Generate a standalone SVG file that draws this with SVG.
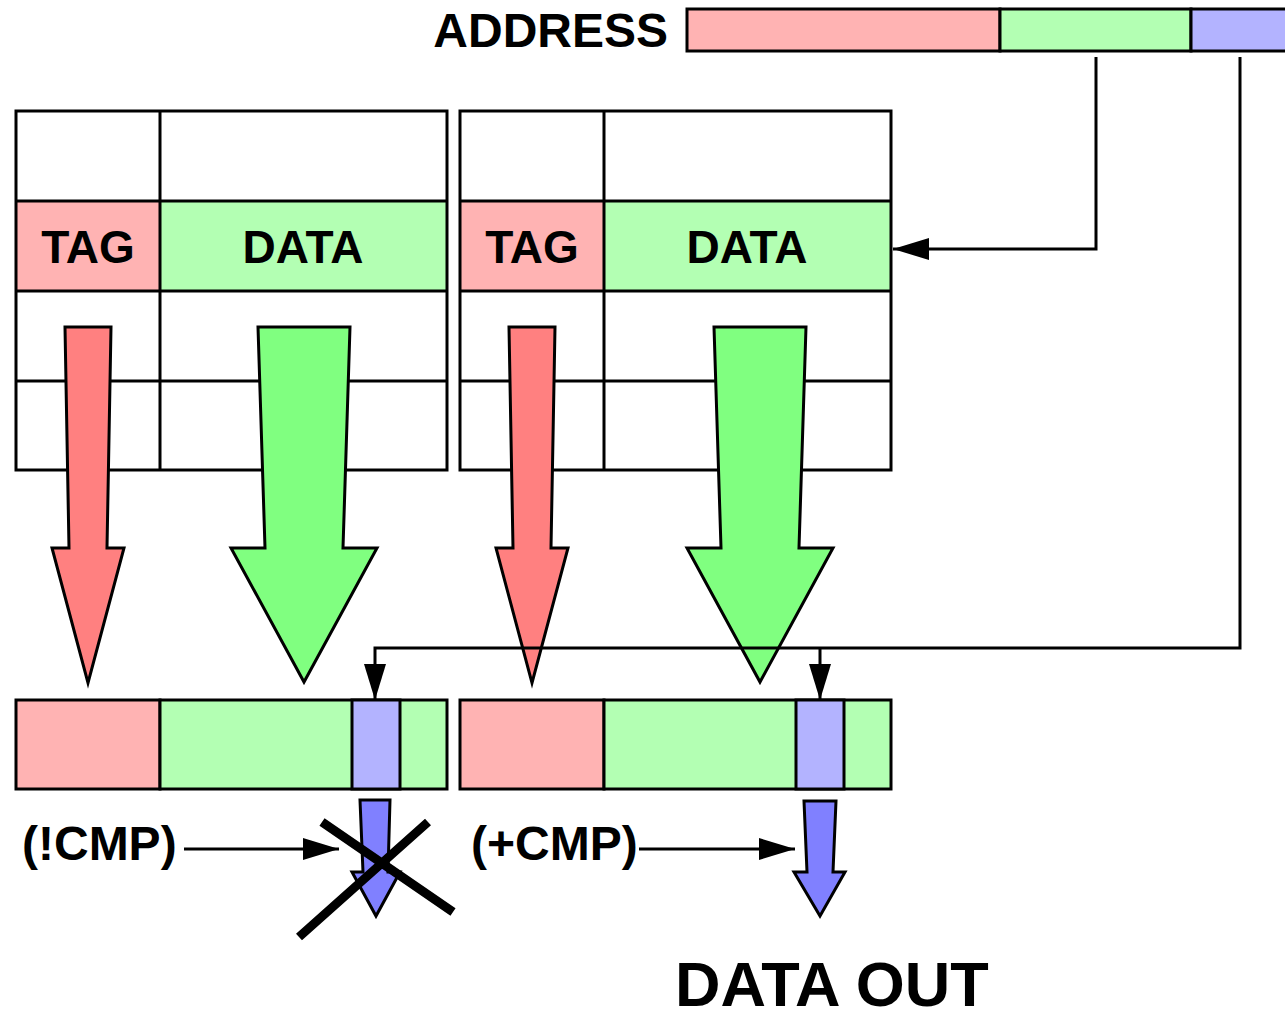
<svg xmlns="http://www.w3.org/2000/svg" width="1285" height="1020" viewBox="0 0 1285 1020">
  <style>
    .grid { fill: none; stroke: #000; stroke-width: 3; }
    .seg { stroke: #000; stroke-width: 3; }
    .tag { fill: #ffb3b3; }
    .dat { fill: #b3ffb3; }
    .off { fill: #b3b3ff; }
    .big { stroke: #000; stroke-width: 3; stroke-linejoin: miter; }
    .conn { fill: none; stroke: #000; stroke-width: 3; }
    .lbl { font-family: "Liberation Sans", Arial, sans-serif; font-weight: bold; fill: #000; }
  </style>
  <defs>
    <marker id="head" markerUnits="userSpaceOnUse" markerWidth="38" markerHeight="24" refX="36" refY="11" orient="auto" overflow="visible">
      <path d="M0,0 L36,11 L0,22 z" fill="#000"/>
    </marker>
  </defs>
  <rect width="1285" height="1020" fill="#fff"/>

  <!-- address register: tag | index | offset -->
  <g id="address">
    <text class="lbl" x="668" y="47" font-size="48" text-anchor="end">ADDRESS</text>
    <rect class="seg tag" x="687" y="9" width="313" height="42"/>
    <rect class="seg dat" x="1000" y="9" width="191" height="42"/>
    <rect class="seg off" x="1191" y="9" width="100" height="42"/>
  </g>

  <!-- way 0 -->
  <g id="way-left">
    <rect class="tag" x="16" y="201" width="144" height="90"/>
    <rect class="dat" x="160" y="201" width="287" height="90"/>
    <rect class="grid" x="16" y="111" width="431" height="359"/>
    <path class="grid" d="M160,111 V470 M16,201 H447 M16,291 H447 M16,381 H447"/>
    <text class="lbl" x="88" y="263" font-size="46" text-anchor="middle">TAG</text>
    <text class="lbl" x="303" y="263" font-size="46" text-anchor="middle">DATA</text>
  </g>

  <!-- way 1 -->
  <g id="way-right">
    <rect class="tag" x="460" y="201" width="144" height="90"/>
    <rect class="dat" x="604" y="201" width="287" height="90"/>
    <rect class="grid" x="460" y="111" width="431" height="359"/>
    <path class="grid" d="M604,111 V470 M460,201 H891 M460,291 H891 M460,381 H891"/>
    <text class="lbl" x="532" y="263" font-size="46" text-anchor="middle">TAG</text>
    <text class="lbl" x="747" y="263" font-size="46" text-anchor="middle">DATA</text>
  </g>

  <!-- read-out arrows from the selected set -->
  <g id="readout">
    <polygon class="big" fill="#ff8080" points="65,327 111,327 107,548 124,548 88,683 52,548 69,548"/>
    <polygon class="big" fill="#80ff80" points="258,327 350,327 343,548 377,548 304,682 231,548 265,548"/>
    <polygon class="big" fill="#ff8080" points="509,327 555,327 551,548 568,548 532,683 496,548 513,548"/>
    <polygon class="big" fill="#80ff80" points="714,327 806,327 799,548 833,548 760,682 687,548 721,548"/>
  </g>

  <!-- fetched lines -->
  <g id="line-left">
    <rect class="seg tag" x="16" y="700" width="144" height="89"/>
    <rect class="seg dat" x="160" y="700" width="287" height="89"/>
    <rect class="seg off" x="352" y="700" width="48" height="89"/>
  </g>
  <g id="line-right">
    <rect class="seg tag" x="460" y="700" width="144" height="89"/>
    <rect class="seg dat" x="604" y="700" width="287" height="89"/>
    <rect class="seg off" x="796" y="700" width="48" height="89"/>
  </g>

  <!-- word outputs -->
  <g id="out-left">
    <polygon class="big" fill="#8080ff" points="360,800 390,800 388,872 400,872 376,916 352,872 363,872"/>
    <path d="M322,822 L453,912 M299,937 L428,822" stroke="#000" stroke-width="9" fill="none"/>
  </g>
  <g id="out-right">
    <polygon class="big" fill="#8080ff" points="804,801 836,801 833,872 845,872 820,916 794,872 807,872"/>
  </g>

  <g id="connectors">
    <path class="conn" d="M1096,57 V249 H893" marker-end="url(#head)"/>
    <path class="conn" d="M1240,57 V648 H375 V700" marker-end="url(#head)"/>
    <path class="conn" d="M820,648 V700" marker-end="url(#head)"/>
    <path class="conn" d="M184,849 H339" marker-end="url(#head)"/>
    <path class="conn" d="M639,849 H795" marker-end="url(#head)"/>
  </g>

  <g id="labels">
    <text class="lbl" x="22" y="860" font-size="48">(!CMP)</text>
    <text class="lbl" x="471" y="860" font-size="48">(+CMP)</text>
    <text class="lbl" x="675" y="1006" font-size="63">DATA OUT</text>
  </g>
</svg>
